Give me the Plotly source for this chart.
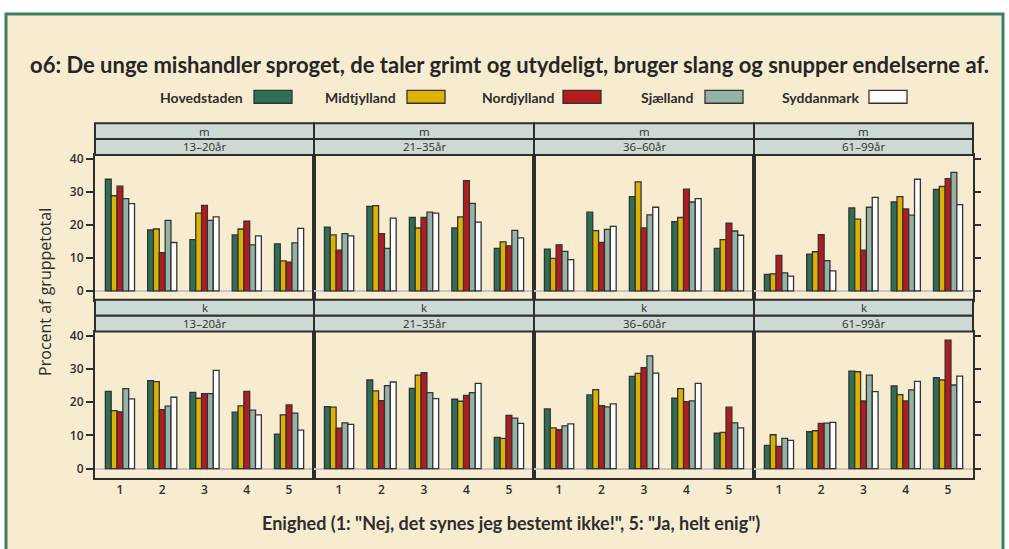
import plotly.graph_objects as go

W, H = 1009, 549

# ---------------- data ----------------
regions = ["Hovedstaden", "Midtjylland", "Nordjylland", "Sjælland", "Syddanmark"]
colors = ["#2F6F55", "#DDB200", "#B31B21", "#94B2A5", "#FFFFFF"]
categories = [1, 2, 3, 4, 5]
genders = ["m", "k"]
ages = ["13–20år", "21–35år", "36–60år", "61–99år"]
y_ticks = [0, 10, 20, 30, 40]

# each panel: one list per region (values for categories 1..5), percent of group total
m_13_20 = [[33.9, 18.5, 15.6, 17.0, 14.3],
           [28.9, 18.8, 23.6, 18.8, 9.1],
           [31.8, 11.6, 26.0, 21.2, 8.7],
           [28.0, 21.4, 21.4, 14.0, 14.6],
           [26.5, 14.7, 22.5, 16.7, 19.0]]
m_21_35 = [[19.4, 25.7, 22.3, 19.1, 12.9],
           [17.0, 25.9, 19.1, 22.5, 14.9],
           [12.4, 17.4, 22.3, 33.5, 13.7],
           [17.4, 12.9, 23.9, 26.6, 18.4],
           [16.7, 22.1, 23.6, 20.9, 16.1]]
m_36_60 = [[12.7, 23.9, 28.6, 21.0, 12.9],
           [9.9, 18.3, 33.1, 22.3, 15.6],
           [14.0, 14.7, 19.1, 30.9, 20.6],
           [12.0, 18.7, 23.1, 27.0, 18.2],
           [9.5, 19.6, 25.4, 28.0, 16.9]]
m_61_99 = [[5.0, 11.2, 25.2, 27.0, 30.8],
           [5.2, 11.9, 21.8, 28.6, 31.7],
           [10.8, 17.1, 12.4, 24.9, 34.1],
           [5.5, 9.2, 25.4, 23.0, 36.0],
           [4.5, 6.1, 28.4, 33.9, 26.2]]
k_13_20 = [[23.3, 26.5, 23.0, 17.0, 10.4],
           [17.5, 26.2, 21.2, 18.9, 16.2],
           [17.1, 17.8, 22.6, 23.3, 19.2],
           [24.1, 18.8, 22.6, 17.6, 16.7],
           [21.0, 21.5, 29.6, 16.2, 11.6]]
k_21_35 = [[18.7, 26.7, 24.2, 20.9, 9.4],
           [18.5, 23.4, 28.2, 20.3, 9.1],
           [12.2, 20.5, 28.9, 22.1, 16.0],
           [13.8, 25.0, 22.9, 22.9, 15.2],
           [13.3, 26.1, 21.1, 25.7, 13.6]]
k_36_60 = [[18.0, 22.2, 27.8, 21.2, 10.7],
           [12.3, 23.8, 28.7, 24.1, 10.9],
           [11.7, 19.0, 30.4, 20.2, 18.5],
           [12.9, 18.6, 34.0, 20.4, 13.8],
           [13.5, 19.5, 28.8, 25.7, 12.3]]
k_61_99 = [[7.0, 11.1, 29.4, 24.9, 27.4],
           [10.2, 11.4, 29.2, 22.3, 26.7],
           [6.7, 13.6, 20.4, 20.4, 38.7],
           [9.1, 13.7, 28.2, 23.7, 25.2],
           [8.5, 13.9, 23.2, 26.3, 27.9]]

panels = [[m_13_20, m_21_35, m_36_60, m_61_99],
          [k_13_20, k_21_35, k_36_60, k_61_99]]

title_text = "o6: De unge mishandler sproget, de taler grimt og utydeligt, bruger slang og snupper endelserne af."
y_title = "Procent af gruppetotal"
x_title = 'Enighed (1: "Nej, det synes jeg bestemt ikke!", 5: "Ja, helt enig")'

# ---------------- layout geometry (pixels) ----------------
BEIGE = "#F8ECD0"
STRIP = "#CCDAD3"
DARK = "#2E2E2E"
FRAME = "#3F7D64"
LATO = "Lato, Open Sans, sans-serif"
SANS = "Open Sans, Noto Sans, sans-serif"

def px(x):
    return x / W

def py(y):
    return 1 - y / H

col_x = [(95, 314), (314, 534), (534, 754), (754, 973)]
row_y = [(152, 298), (330, 477)]
strip_y = [((120, 136), (136, 152)), ((298, 314), (314, 330))]
Y_RANGE = [-2.7, 41.3]
X_RANGE = [0.41, 5.59]

fig = go.Figure()
layout = {}

for r, g in enumerate(genders):
    for c, age in enumerate(ages):
        n = r * 4 + c + 1
        xa = "x" if n == 1 else f"x{n}"
        ya = "y" if n == 1 else f"y{n}"
        data = panels[r][c]
        for k, reg in enumerate(regions):
            fig.add_trace(go.Bar(
                x=categories, y=data[k], name=reg,
                xaxis=xa, yaxis=ya, showlegend=False,
                marker=dict(color=colors[k], line=dict(color="#333333", width=1.3)),
            ))
        layout[f"xaxis{n if n > 1 else ''}"] = dict(
            domain=[px(col_x[c][0]), px(col_x[c][1])], anchor=ya,
            range=X_RANGE, tickvals=categories, ticktext=[str(v) for v in categories],
            showticklabels=(r == 1), ticks="",
            showline=True, mirror=True, linecolor=DARK, linewidth=2,
            showgrid=False, zeroline=False, fixedrange=True,
            tickfont=dict(family=SANS, size=12, color=DARK, weight=600),
        )
        layout[f"yaxis{n if n > 1 else ''}"] = dict(
            domain=[py(row_y[r][1]), py(row_y[r][0])], anchor=xa,
            range=Y_RANGE, tickvals=y_ticks,
            showticklabels=(c == 0), ticks=("outside" if c == 0 else ""),
            ticklen=7, tickwidth=1.5, tickcolor=DARK,
            showline=True, mirror=True, linecolor=DARK, linewidth=2,
            showgrid=False, zeroline=True, zerolinecolor="#C4C4CC", zerolinewidth=2,
            tickfont=dict(family=SANS, size=12, color=DARK, weight=600),
        )

# right-hand tick axes for last column
for r, (base_n, extra_n) in enumerate([(4, 9), (8, 10)]):
    fig.add_trace(go.Scatter(x=[None], y=[None], xaxis=f"x{base_n}", yaxis=f"y{extra_n}",
                             showlegend=False, hoverinfo="skip"))
    layout[f"yaxis{extra_n}"] = dict(
        overlaying=f"y{base_n}", side="right", anchor=f"x{base_n}",
        range=Y_RANGE, tickvals=y_ticks, showticklabels=False,
        ticks="outside", ticklen=7, tickwidth=1.5, tickcolor=DARK,
        showline=False, showgrid=False, zeroline=False,
    )

shapes = []
annotations = []

# outer frame
shapes.append(dict(type="rect", xref="paper", yref="paper",
                   x0=px(6), x1=px(1003), y0=py(600), y1=py(10),
                   fillcolor=BEIGE, line=dict(color=FRAME, width=3), layer="below"))

# strips
for r in range(2):
    for c in range(4):
        for s, (y0, y1) in enumerate(strip_y[r]):
            shapes.append(dict(type="rect", xref="paper", yref="paper",
                               x0=px(col_x[c][0]), x1=px(col_x[c][1]),
                               y0=py(y1), y1=py(y0),
                               fillcolor=STRIP, line=dict(color=DARK, width=2)))
            label = genders[r] if s == 0 else ages[c]
            annotations.append(dict(xref="paper", yref="paper",
                                    x=px((col_x[c][0] + col_x[c][1]) / 2), y=py((y0 + y1) / 2),
                                    text=label, showarrow=False, xanchor="center", yanchor="middle",
                                    font=dict(family=SANS, size=11.5, color=DARK)))

# legend (manual, text followed by swatch)
legend_text_right = [245, 398, 556, 695, 861]
legend_swatch = [(254, 292), (407, 445), (563, 601), (705, 743), (869, 907)]
for k, reg in enumerate(regions):
    annotations.append(dict(xref="paper", yref="paper", x=px(legend_text_right[k]), y=py(94),
                            text=reg, showarrow=False, xanchor="right", yanchor="middle",
                            font=dict(family=LATO, size=14, color=DARK, weight=700)))
    shapes.append(dict(type="rect", xref="paper", yref="paper",
                       x0=px(legend_swatch[k][0]), x1=px(legend_swatch[k][1]),
                       y0=py(100), y1=py(87),
                       fillcolor=colors[k], line=dict(color="#333333", width=1.3)))

# title
annotations.append(dict(xref="paper", yref="paper", x=px(510), y=py(61),
                        text=title_text, showarrow=False, xanchor="center", yanchor="middle",
                        font=dict(family=LATO, size=22, color="#262626", weight=700)))
# axis titles
annotations.append(dict(xref="paper", yref="paper", x=px(45), y=py(290),
                        text=y_title, showarrow=False, textangle=-90,
                        xanchor="center", yanchor="middle",
                        font=dict(family=SANS, size=16, color=DARK, weight=500)))
annotations.append(dict(xref="paper", yref="paper", x=px(511), y=py(523),
                        text=x_title, showarrow=False, xanchor="center", yanchor="middle",
                        font=dict(family=LATO, size=18, color=DARK, weight=700)))

fig.update_layout(
    width=W, height=H, margin=dict(l=0, r=0, t=0, b=0),
    paper_bgcolor="white", plot_bgcolor=BEIGE,
    barmode="group", bargap=0.31, bargroupgap=0.0,
    shapes=shapes, annotations=annotations, showlegend=False,
    **layout,
)

fig.write_html("out.html", config={"displayModeBar": False},
               post_script="document.body.style.margin='0px';document.body.style.overflow='hidden';")
